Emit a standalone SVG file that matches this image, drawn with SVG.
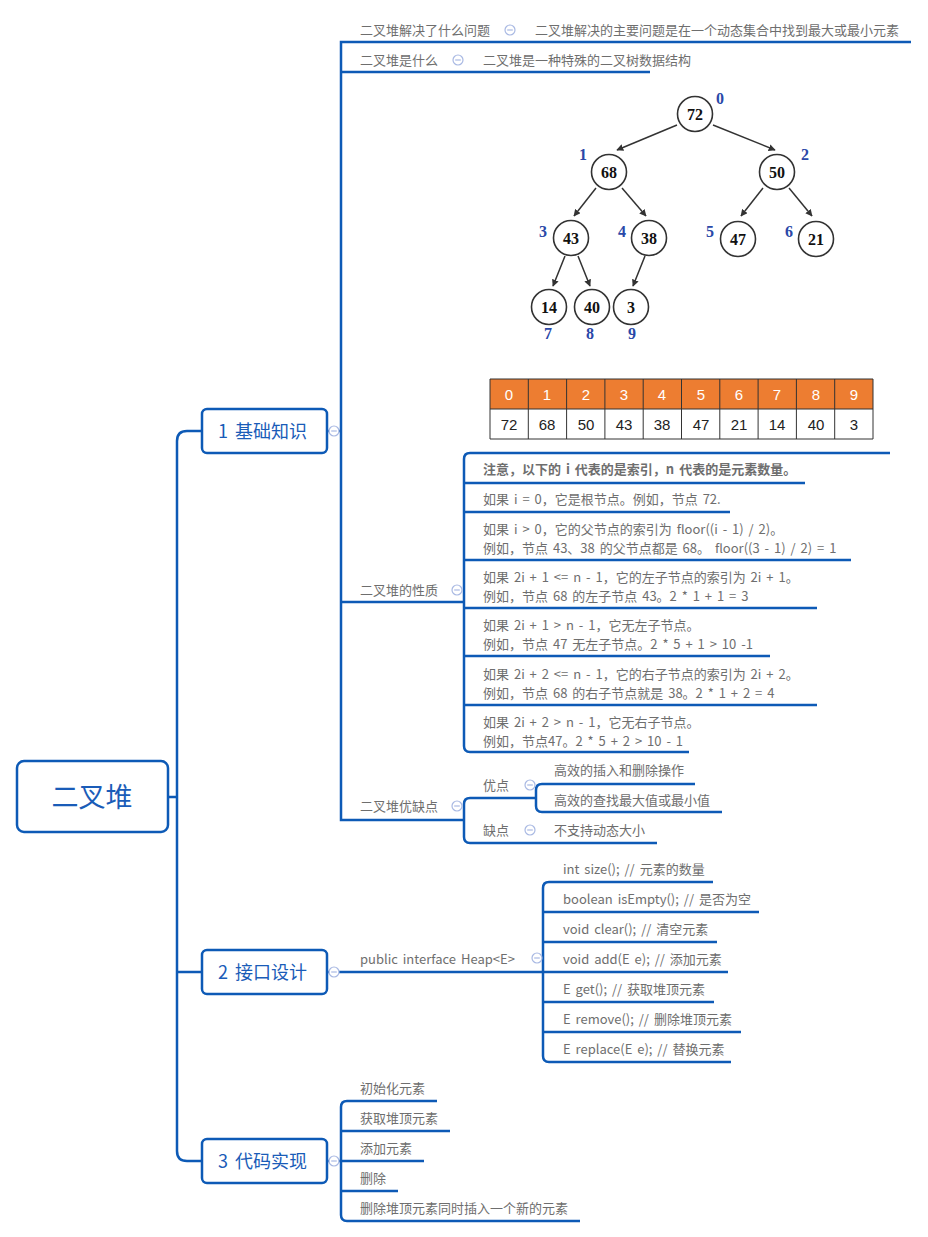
<svg xmlns="http://www.w3.org/2000/svg" width="928" height="1237" viewBox="0 0 928 1237">
<style>
.ln{fill:none;stroke:#0d5ab6;stroke-width:2.5;}
.box{fill:#fff;stroke:#0d5ab6;stroke-width:2.5;}
.t{font-family:"Noto Sans CJK SC","Liberation Sans",sans-serif;font-size:13px;fill:#6e6e6e;word-spacing:2px;}
.tb{font-weight:bold;}
.big{font-family:"Noto Sans CJK SC","Liberation Sans",sans-serif;fill:#1a5cb8;word-spacing:3px;}
.ic{fill:#fff;stroke:#a9b9e3;stroke-width:1.2;}
.icl{stroke:#a9b9e3;stroke-width:1.2;}
.tc{fill:#fff;stroke:#333;stroke-width:1.6;}
.tn{font-family:"Liberation Serif",serif;font-weight:bold;font-size:16px;fill:#111;text-anchor:middle;}
.ti{font-family:"Liberation Serif",serif;font-weight:bold;font-size:16px;fill:#2a48a8;text-anchor:middle;}
.ta{stroke:#333;stroke-width:1.5;fill:none;marker-end:url(#ah);}
.tx{font-family:"Liberation Sans",sans-serif;font-size:15px;text-anchor:middle;}
</style>
<defs>
<marker id="ah" viewBox="0 0 10 10" refX="9" refY="5" markerWidth="7" markerHeight="7" orient="auto" markerUnits="userSpaceOnUse"><path d="M0,0 L10,5 L0,10 z" fill="#333"/></marker>
<g id="col"><circle r="5" class="ic"/><line x1="-2.8" y1="0" x2="2.8" y2="0" class="icl"/></g>
</defs>
<rect width="928" height="1237" fill="#fff"/>
<g id="connectors">
<path class="ln" d="M168,797 H177 M202,431 H187 Q177,431 177,441 V1151 Q177,1161 187,1161 H202 M177,972 H202"/>
<path class="ln" d="M327,431 H341 M911,42 H341 V820 H464 M341,72 H650 M341,602 H464"/>
<path class="ln" d="M890,453 H470 Q464,453 464,459 V746 Q464,752 470,752 H689 M464,483 H805 M464,512 H730 M464,560 H851 M464,608 H817 M464,656 H770 M464,705 H817"/>
<path class="ln" d="M536,798 H470 Q464,798 464,804 V837 Q464,843 470,843 H657 M695,784 H542 Q536,784 536,790 V806 Q536,812 542,812 H722"/>
<path class="ln" d="M327,972 H728 M713,882 H549 Q543,882 543,888 V1056 Q543,1062 549,1062 H731 M543,912 H759 M543,942 H717 M543,1002 H714 M543,1032 H741"/>
<path class="ln" d="M327,1161 H341 M437,1101 H347 Q341,1101 341,1107 V1215 Q341,1221 347,1221 H580 M341,1131 H450 M341,1161 H424 M341,1191 H398"/>
</g>
<g id="root"><rect class="box" x="17" y="761" width="151" height="71" rx="7"/><text class="big" x="92" y="807" font-size="27" text-anchor="middle">二叉堆</text></g>
<g id="n1"><rect class="box" x="202" y="409" width="125" height="44" rx="5"/><text class="big" x="218" y="438" font-size="18">1 基础知识</text><use href="#col" x="334" y="431"/></g>
<g id="n2"><rect class="box" x="202" y="950" width="125" height="44" rx="5"/><text class="big" x="218" y="979" font-size="18">2 接口设计</text><use href="#col" x="334" y="972"/></g>
<g id="n3"><rect class="box" x="202" y="1139" width="125" height="44" rx="5"/><text class="big" x="218" y="1168" font-size="18">3 代码实现</text><use href="#col" x="334" y="1161"/></g>
<g id="q1"><text class="t" x="360" y="35">二叉堆解决了什么问题</text><use href="#col" x="510" y="30"/><text class="t" x="535" y="35">二叉堆解决的主要问题是在一个动态集合中找到最大或最小元素</text></g>
<g id="q2"><text class="t" x="360" y="65">二叉堆是什么</text><use href="#col" x="458" y="60"/><text class="t" x="483" y="65">二叉堆是一种特殊的二叉树数据结构</text></g>
<g id="heapimg">
<line class="ta" x1="677" y1="125" x2="617" y2="150"/>
<line class="ta" x1="713" y1="125" x2="775" y2="150"/>
<line class="ta" x1="596" y1="188" x2="574" y2="216"/>
<line class="ta" x1="622" y1="188" x2="646" y2="216"/>
<line class="ta" x1="763" y1="188" x2="741" y2="216"/>
<line class="ta" x1="789" y1="188" x2="812" y2="216"/>
<line class="ta" x1="565" y1="256" x2="553" y2="286"/>
<line class="ta" x1="578" y1="256" x2="590" y2="286"/>
<line class="ta" x1="645" y1="256" x2="633" y2="286"/>
<circle class="tc" cx="695" cy="114" r="17.5"/><text class="tn" x="695" y="120">72</text>
<circle class="tc" cx="609" cy="172" r="17.5"/><text class="tn" x="609" y="178">68</text>
<circle class="tc" cx="777" cy="172" r="17.5"/><text class="tn" x="777" y="178">50</text>
<circle class="tc" cx="571" cy="238" r="17.5"/><text class="tn" x="571" y="244">43</text>
<circle class="tc" cx="649" cy="238" r="17.5"/><text class="tn" x="649" y="244">38</text>
<circle class="tc" cx="738" cy="239" r="17.5"/><text class="tn" x="738" y="245">47</text>
<circle class="tc" cx="816" cy="239" r="17.5"/><text class="tn" x="816" y="245">21</text>
<circle class="tc" cx="549" cy="307" r="17.5"/><text class="tn" x="549" y="313">14</text>
<circle class="tc" cx="592" cy="307" r="17.5"/><text class="tn" x="592" y="313">40</text>
<circle class="tc" cx="631" cy="307" r="17.5"/><text class="tn" x="631" y="313">3</text>
<text class="ti" x="720" y="104">0</text>
<text class="ti" x="583" y="160">1</text>
<text class="ti" x="805" y="160">2</text>
<text class="ti" x="543" y="237">3</text>
<text class="ti" x="622" y="237">4</text>
<text class="ti" x="710" y="237">5</text>
<text class="ti" x="789" y="237">6</text>
<text class="ti" x="548" y="339">7</text>
<text class="ti" x="590" y="339">8</text>
<text class="ti" x="632" y="339">9</text>
<rect x="490" y="379" width="383" height="30" fill="#ed7d31"/>
<rect x="490" y="409" width="383" height="30" fill="#fff"/>
<path d="M490,379 H873 V439 H490 Z M490,409 H873 M528.3,379 V439 M566.6,379 V439 M604.9,379 V439 M643.2,379 V439 M681.5,379 V439 M719.8,379 V439 M758.1,379 V439 M796.4,379 V439 M834.7,379 V439" fill="none" stroke="#333" stroke-width="1"/>
<g class="tx" fill="#fff">
<text x="509" y="400">0</text><text x="547" y="400">1</text><text x="586" y="400">2</text><text x="624" y="400">3</text><text x="662" y="400">4</text><text x="701" y="400">5</text><text x="739" y="400">6</text><text x="777" y="400">7</text><text x="816" y="400">8</text><text x="854" y="400">9</text>
</g>
<g class="tx" fill="#222">
<text x="509" y="430">72</text><text x="547" y="430">68</text><text x="586" y="430">50</text><text x="624" y="430">43</text><text x="662" y="430">38</text><text x="701" y="430">47</text><text x="739" y="430">21</text><text x="777" y="430">14</text><text x="816" y="430">40</text><text x="854" y="430">3</text>
</g>
</g>
<g id="props"><text class="t" x="360" y="595">二叉堆的性质</text><use href="#col" x="457" y="590"/></g>
<g id="p0"><text class="t tb" x="483" y="474">注意，以下的 i 代表的是索引，n 代表的是元素数量。</text></g>
<g id="p1"><text class="t" x="483" y="504">如果 i = 0，它是根节点。例如，节点 72.</text></g>
<g id="p2"><text class="t" x="483" y="534">如果 i &gt; 0，它的父节点的索引为 floor((i - 1) / 2)。</text><text class="t" x="483" y="553">例如，节点 43、38 的父节点都是 68。 floor((3 - 1) / 2) = 1</text></g>
<g id="p3"><text class="t" x="483" y="582">如果 2i + 1 &lt;= n - 1，它的左子节点的索引为 2i + 1。</text><text class="t" x="483" y="601">例如，节点 68 的左子节点 43。2 * 1 + 1 = 3</text></g>
<g id="p4"><text class="t" x="483" y="630">如果 2i + 1 &gt; n - 1，它无左子节点。</text><text class="t" x="483" y="649">例如，节点 47 无左子节点。2 * 5 + 1 &gt; 10 -1</text></g>
<g id="p5"><text class="t" x="483" y="679">如果 2i + 2 &lt;= n - 1，它的右子节点的索引为 2i + 2。</text><text class="t" x="483" y="698">例如，节点 68 的右子节点就是 38。2 * 1 + 2 = 4</text></g>
<g id="p6"><text class="t" x="483" y="727">如果 2i + 2 &gt; n - 1，它无右子节点。</text><text class="t" x="483" y="746">例如，节点47。2 * 5 + 2 &gt; 10 - 1</text></g>
<g id="procon"><text class="t" x="360" y="811">二叉堆优缺点</text><use href="#col" x="457" y="806"/></g>
<g id="pro"><text class="t" x="483" y="790">优点</text><use href="#col" x="530" y="785"/></g>
<g id="pro1"><text class="t" x="554" y="775">高效的插入和删除操作</text></g>
<g id="pro2"><text class="t" x="554" y="805">高效的查找最大值或最小值</text></g>
<g id="con"><text class="t" x="483" y="835">缺点</text><use href="#col" x="530" y="830"/><text class="t" x="554" y="835">不支持动态大小</text></g>
<g id="iface"><text class="t" x="360" y="964">public interface Heap&lt;E&gt;</text><use href="#col" x="537" y="958"/></g>
<g id="m1"><text class="t" x="563" y="874">int size(); // 元素的数量</text></g>
<g id="m2"><text class="t" x="563" y="904">boolean isEmpty(); // 是否为空</text></g>
<g id="m3"><text class="t" x="563" y="934">void clear(); // 清空元素</text></g>
<g id="m4"><text class="t" x="563" y="964">void add(E e); // 添加元素</text></g>
<g id="m5"><text class="t" x="563" y="994">E get(); // 获取堆顶元素</text></g>
<g id="m6"><text class="t" x="563" y="1024">E remove(); // 删除堆顶元素</text></g>
<g id="m7"><text class="t" x="563" y="1054">E replace(E e); // 替换元素</text></g>
<g id="c1"><text class="t" x="360" y="1093">初始化元素</text></g>
<g id="c2"><text class="t" x="360" y="1123">获取堆顶元素</text></g>
<g id="c3"><text class="t" x="360" y="1153">添加元素</text></g>
<g id="c4"><text class="t" x="360" y="1183">删除</text></g>
<g id="c5"><text class="t" x="360" y="1213">删除堆顶元素同时插入一个新的元素</text></g>
</svg>
